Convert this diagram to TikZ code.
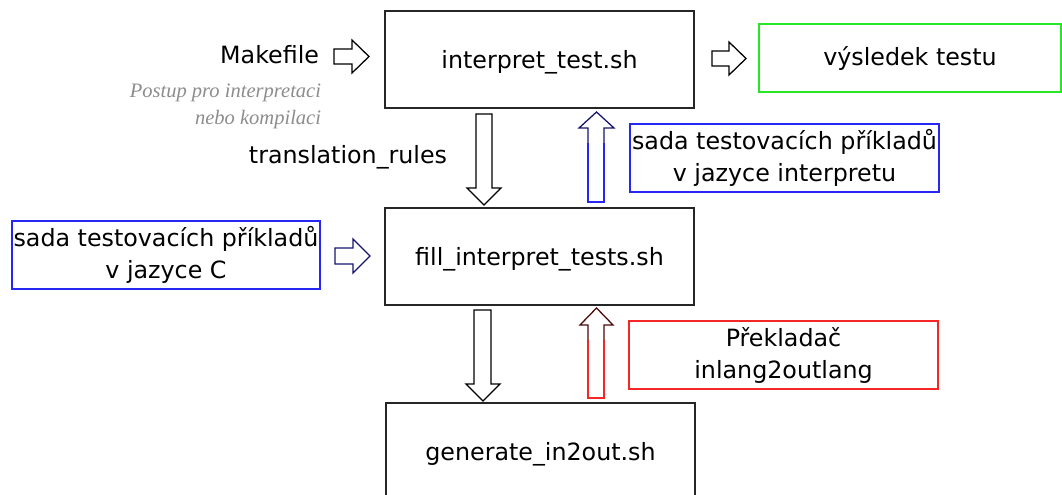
\documentclass[tikz,border=0pt]{standalone}
\usepackage{fontspec}
\setmainfont{DejaVu Sans}
\newfontfamily\kurziva{Liberation Serif}
\definecolor{modra}{HTML}{2626F5}
\definecolor{zelena}{HTML}{26E626}
\definecolor{cervena}{HTML}{F52626}
\definecolor{tmavomodra}{HTML}{14146E}
\definecolor{tmavocervena}{HTML}{4A0808}
\definecolor{seda}{HTML}{8C8C8C}
\tikzset{
  skript/.style={draw=black!85, line width=0.9pt, text depth=0pt, minimum width=7.725cm, minimum height=2.425cm},
  ramecek/.style={draw, line width=0.9pt, inner xsep=1pt, minimum width=7.725cm, minimum height=1.7cm, align=center},
  sipka/.style={line width=0.9pt, line join=miter}
}

\begin{document}
\begin{tikzpicture}[x=0.025cm, y=-0.025cm, font=\fontsize{16.9}{22.7}\selectfont]
	\useasboundingbox (0,0) rectangle (1062,494);
	\clip (0,0) rectangle (1062,494);
	% skripty
	\node[skript] (interpret) at (539.5,59.5) {interpret\_test.sh};
	\node[skript] (fill) at (539.5,256.5) {fill\_interpret\_tests.sh};
	\node[skript] (generate) at (540.5,451.5) {generate\_in2out.sh};
	% vstupy a vystupy
	\node[ramecek, draw=zelena, minimum width=7.55cm] (vysledek) at (910,58) {výsledek testu};
	\node[ramecek, draw=modra] (sadaint) at (784.5,158) {sada testovacích příkladů\\v jazyce interpretu};
	\node[ramecek, draw=modra, minimum width=7.7cm] (sadac) at (166,255) {sada testovacích příkladů\\v jazyce C};
	\node[ramecek, draw=cervena, minimum width=7.725cm] (prekladac) at (783.5,355) {Překladač\\inlang2outlang};
	% popisky
	\node[anchor=east] (makefile) at (324,55) {Makefile};
	\node[anchor=east, align=right, text=seda, font=\kurziva\itshape\fontsize{14.6}{19.2}\selectfont] (postup) at (326,106.5)
		{Postup pro interpretaci\\nebo kompilaci};
	\node (pravidla) at (348,157) {translation\_rules};
	% sipky doprava
	\draw[sipka] (334,49) -- (352,49) -- (352,40) -- (369,56.5) -- (352,73) -- (352,64) -- (334,64) -- cycle;
	\draw[sipka] (712,51) -- (729,51) -- (729,42) -- (746,58.5) -- (729,75) -- (729,66) -- (712,66) -- cycle;
	\draw[sipka, tmavomodra] (335,248) -- (353,248) -- (353,239) -- (370,256) -- (353,273) -- (353,264) -- (335,264) -- cycle;
	% sipky dolu
	\draw[sipka] (476,114) -- (492,114) -- (492,188) -- (501,188) -- (484,205) -- (467,188) -- (476,188) -- cycle;
	\draw[sipka] (474,310) -- (491,310) -- (491,384) -- (500,384) -- (483,401) -- (466,384) -- (474,384) -- cycle;
	% sipky nahoru
	\draw[sipka, modra] (588,143) -- (588,202) -- (604,202) -- (604,143);
	\draw[sipka, tmavomodra] (588,143) -- (588,128) -- (579,128) -- (596.5,112) -- (614,128) -- (604,128) -- (604,143);
	\draw[sipka, cervena] (588,340) -- (588,398) -- (604,398) -- (604,340);
	\draw[sipka, tmavocervena] (588,340) -- (588,325) -- (580,325) -- (596.5,308) -- (613,325) -- (604,325) -- (604,340);
\end{tikzpicture}
\end{document}
